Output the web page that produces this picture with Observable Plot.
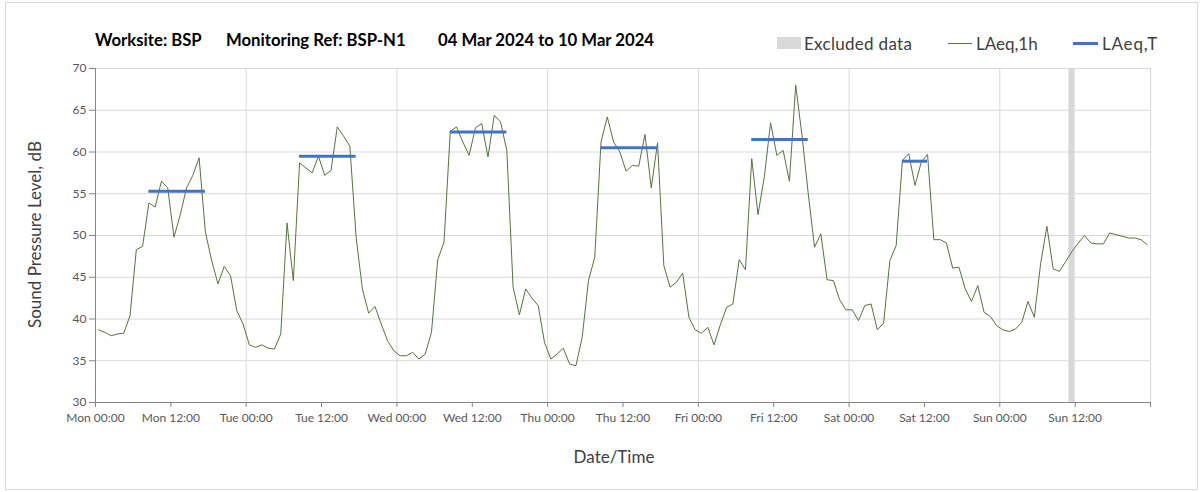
<!DOCTYPE html>
<html><head><meta charset="utf-8">
<script src="https://cdn.jsdelivr.net/npm/d3@7"></script>
<script src="https://cdn.jsdelivr.net/npm/@observablehq/plot@0.6"></script>
<style>
body{margin:0;background:#fff;font-family:Lato,"Open Sans",sans-serif;}
#wrap{position:relative;width:1203px;height:492px;overflow:hidden;}
#border{position:absolute;left:5px;top:2px;width:1193px;height:488px;border:1px solid #d9d9d9;box-sizing:border-box;}
#chart{position:absolute;left:0;top:0;}
.t{position:absolute;white-space:nowrap;line-height:1;}
.title{font-weight:bold;font-size:16.7px;color:#000;top:32px;}
.leg{font-size:17px;color:#404040;top:35px;}
.sw{position:absolute;}
</style></head><body>
<div id="wrap">
  <div id="border"></div>
  <div id="chart"></div>
  <div class="t title" style="left:95px">Worksite: BSP</div>
  <div class="t title" style="left:226px">Monitoring Ref: BSP-N1</div>
  <div class="t title" style="left:438px">04 Mar 2024 to 10 Mar 2024</div>
  <div class="sw" style="left:777px;top:37px;width:24px;height:12px;background:#d9d9d9"></div>
  <div class="t leg" style="left:804px;letter-spacing:0.3px">Excluded data</div>
  <div class="sw" style="left:948px;top:43px;width:24px;height:1px;background:#56743d"></div>
  <div class="t leg" style="left:976px">LAeq,1h</div>
  <div class="sw" style="left:1073px;top:42px;width:25px;height:3px;background:#4472c4"></div>
  <div class="t leg" style="left:1102px;letter-spacing:0.8px">LAeq,T</div>
</div>
<script>
// Hourly LAeq,1h values, Mon 04 Mar 2024 00:00 onwards (168 hours)
const laeq1h = [
 38.7,38.4,38.0,38.2,38.3,40.4,48.3,48.7,53.9,53.4,56.5,55.7,49.8,52.5,55.7,57.2,59.3,50.4,47.0,44.2,46.3,45.2,41.0,39.4,
 36.9,36.6,36.9,36.5,36.4,38.2,51.5,44.6,58.7,58.1,57.5,59.5,57.2,57.8,63.0,61.9,60.7,49.8,43.6,40.7,41.5,39.4,37.4,36.2,
 35.6,35.6,36.0,35.2,35.8,38.4,47.1,49.2,62.5,63.0,61.2,59.6,62.9,63.4,59.4,64.4,63.6,60.2,43.8,40.5,43.6,42.5,41.6,37.2,
 35.2,35.8,36.5,34.6,34.4,37.8,44.6,47.4,61.2,64.2,61.2,60.0,57.7,58.4,58.3,62.1,55.7,61.1,46.4,43.8,44.4,45.5,40.2,38.7,
 38.3,39.0,36.9,39.3,41.4,41.8,47.1,45.9,59.2,52.5,57.0,63.5,59.6,60.2,56.5,68.0,62.0,55.0,48.6,50.2,44.7,44.6,42.3,41.1,
 41.1,39.8,41.6,41.8,38.7,39.5,47.0,48.8,59.0,59.8,56.0,58.8,59.7,49.5,49.5,49.1,46.1,46.2,43.6,42.1,44.0,40.8,40.3,39.2,
 38.7,38.5,38.8,39.6,42.1,40.2,46.6,51.1,46.0,45.7,46.9,48.1,49.1,50.0,49.1,49.0,49.0,50.3,50.1,49.9,49.7,49.7,49.5,48.9
];
// LAeq,T daytime periods (hour index start/end) and levels
const laeqTStart = [8, 32, 56, 80, 104, 128];
const laeqTEnd   = [18, 42, 66, 90, 114, 133];
const laeqTValue = [55.3, 59.5, 62.4, 60.5, 61.5, 58.9];
// Excluded data periods (hour index)
const excludedStart = [155];
const excludedEnd   = [156];
// Axis ticks
const xTickLabels = ["Mon 00:00","Mon 12:00","Tue 00:00","Tue 12:00","Wed 00:00","Wed 12:00","Thu 00:00",
  "Thu 12:00","Fri 00:00","Fri 12:00","Sat 00:00","Sat 12:00","Sun 00:00","Sun 12:00"];
const yTicks = [30,35,40,45,50,55,60,65,70];

const hourly = laeq1h.map((v,i)=>({h:i+0.5, v}));
const periods = laeqTValue.map((v,i)=>({x1:laeqTStart[i]+0.5, x2:laeqTEnd[i]-0.5, v}));
const excluded = excludedStart.map((s,i)=>({x1:s, x2:excludedEnd[i]}));
const xTickVals = d3.range(0, 169, 12);
const dayLines = d3.range(0, 169, 24);

const chart = Plot.plot({
  width: 1203, height: 492,
  marginLeft: 95, marginRight: 53, marginTop: 68, marginBottom: 90,
  style: {fontFamily: "Lato, 'Open Sans', sans-serif", background: "transparent", overflow: "visible"},
  x: {domain: [0,168], axis: null},
  y: {domain: [30,70], axis: null},
  marks: [
    Plot.ruleY(yTicks, {stroke: "#d9d9d9"}),
    Plot.ruleX(dayLines, {stroke: "#d9d9d9"}),
    Plot.rect(excluded, {x1: "x1", x2: "x2", fill: "#d9d9d9"}),
    Plot.line(hourly, {x: "h", y: "v", stroke: "#56743d", strokeWidth: 1}),
    Plot.ruleY(periods, {x1: "x1", x2: "x2", y: "v", stroke: "#4472c4", strokeWidth: 3}),
    Plot.ruleY([30], {stroke: "#868686"}),
    Plot.ruleX([0], {stroke: "#868686"}),
    Plot.axisY({ticks: yTicks, tickSize: 6, tickPadding: 3, fontSize: 12, stroke: "#868686", color: "#595959", label: null}),
    Plot.axisX({ticks: xTickVals, tickSize: 5, tickPadding: 6, fontSize: 12, stroke: "#868686", color: "#595959", label: null,
      tickFormat: d => xTickLabels[d/12] ?? ""}),
    Plot.text(["Sound Pressure Level, dB"], {frameAnchor: "left", dx: -60, dy: -1, rotate: -90, textAnchor: "middle", fontSize: 17, fill: "#404040"}),
    Plot.text(["Date/Time"], {frameAnchor: "bottom", dy: 60, dx: -9, textAnchor: "middle", fontSize: 17, fill: "#404040"})
  ]
});
document.getElementById("chart").appendChild(chart);
</script>
</body></html>
